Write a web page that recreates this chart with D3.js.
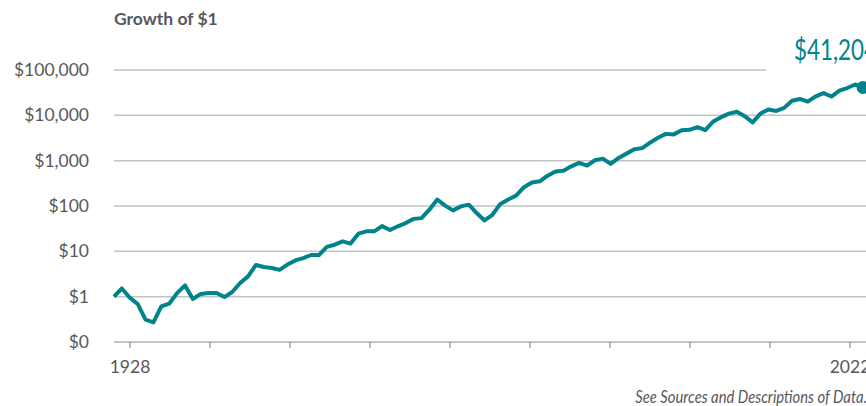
<!DOCTYPE html>
<html>
<head>
<meta charset="utf-8">
<script src="https://cdn.jsdelivr.net/npm/d3@7"></script>
<style>
  html, body { margin: 0; padding: 0; background: #fff; overflow: hidden; }
  svg { display: block; }
  text { font-family: Lato, "Open Sans", sans-serif; fill: #58585a; }
</style>
</head>
<body>
<svg id="chart" width="866" height="406"></svg>
<script>
// growth of $1, year-end values 1927..2022
const startYear = 1927, endYear = 2022;
const growth = [
  1, 1.52, 0.95, 0.69, 0.31, 0.27, 0.61, 0.70, 1.2, 1.78,
  0.89, 1.15, 1.2, 1.2, 0.98, 1.27, 2.0, 2.8, 5.0, 4.5,
  4.3, 3.9, 5.1, 6.3, 7.1, 8.3, 8.3, 12.5, 14, 16.6,
  14.8, 24.5, 27.6, 27.6, 36, 29.5, 35.7, 42, 52, 54,
  83, 139, 102, 80, 98, 107, 70, 48, 64, 111,
  139, 169, 260, 330, 350, 467, 580, 600, 750, 890,
  780, 1020, 1110, 850, 1150, 1430, 1790, 1890, 2500, 3200,
  3900, 3800, 4700, 4800, 5500, 4700, 7300, 9100, 10900, 12000,
  9600, 7000, 10900, 13400, 12500, 14600, 21000, 23000, 20000, 26300,
  31000, 26000, 35000, 40000, 48000, 41204
];
const years = d3.range(startYear, endYear + 1);

const yTickValues = [0.1, 1, 10, 100, 1000, 10000, 100000];
const yTickLabels = ["$0", "$1", "$10", "$100", "$1,000", "$10,000", "$100,000"];
const xTickLabels = ["1928", "", "", "", "", "", "", "", "", "2022"];
const endLabel = "$41,204";

const teal = "#00838a";
const svg = d3.select("#chart");

//scales
const x = d3.scaleLinear().domain([startYear, endYear]).range([114, 863]);
const y = d3.scaleLog().domain([0.1, 100000]).range([342, 70]);
const xTick = d3.scalePoint().domain(d3.range(xTickLabels.length)).range([114, 866]).padding(0.2);

//title
svg.append("text")
  .attr("x", 114).attr("y", 25)
  .attr("font-size", 17.5).attr("font-weight", 700)
  .text("Growth of $1");

//gridlines (top one stops short of the end label)
svg.append("g").selectAll("line")
  .data(yTickValues.slice(1))
  .join("line")
  .attr("x1", 114)
  .attr("x2", d => d === 100000 ? 766 : 866)
  .attr("y1", d => y(d)).attr("y2", d => y(d))
  .attr("stroke", "#c3c3c3").attr("stroke-width", 1.5);

//y labels
svg.append("g").selectAll("text")
  .data(yTickValues)
  .join("text")
  .attr("x", 89)
  .attr("y", d => y(d))
  .attr("dy", "0.35em")
  .attr("text-anchor", "end")
  .attr("font-size", 17.5)
  .text((d, i) => yTickLabels[i]);

//x axis
const xAxis = svg.append("g").attr("transform", "translate(0,342)");
xAxis.append("line").attr("x1", 114).attr("x2", 866)
  .attr("stroke", "#8c8c8c").attr("stroke-width", 1.2);
xAxis.selectAll(".tick")
  .data(xTickLabels)
  .join("line")
  .attr("class", "tick")
  .attr("x1", (d, i) => xTick(i)).attr("x2", (d, i) => xTick(i))
  .attr("y1", 0).attr("y2", 6)
  .attr("stroke", "#8c8c8c").attr("stroke-width", 1.2);
xAxis.selectAll(".lbl")
  .data(xTickLabels)
  .join("text")
  .attr("class", "lbl")
  .attr("x", (d, i) => xTick(i))
  .attr("y", 31)
  .attr("text-anchor", "middle")
  .attr("font-size", 17.5)
  .text(d => d);

//line
const line = d3.line()
  .x((d, i) => x(years[i]))
  .y(d => y(d));

svg.append("path")
  .datum(growth)
  .attr("d", line)
  .attr("fill", "none")
  .attr("stroke", teal)
  .attr("stroke-width", 4)
  .attr("stroke-linejoin", "round");

//end dot and label
const last = growth.length - 1;
svg.append("circle")
  .attr("cx", x(years[last])).attr("cy", y(growth[last]))
  .attr("r", 6.5).attr("fill", teal);

// condensed look: squeeze a regular face horizontally
svg.append("g")
  .attr("transform", "translate(794,60) scale(0.8,1)")
  .append("text")
  .attr("font-family", "'Liberation Sans', sans-serif")
  .attr("font-size", 28)
  .style("fill", teal)
  .text(endLabel);

//source note
svg.append("g")
  .attr("transform", "translate(867,403) scale(0.87,1)")
  .append("text")
  .attr("text-anchor", "end")
  .attr("font-family", "'Liberation Sans', sans-serif")
  .attr("font-style", "italic")
  .attr("font-size", 17)
  .text("See Sources and Descriptions of Data.");
</script>
</body>
</html>
